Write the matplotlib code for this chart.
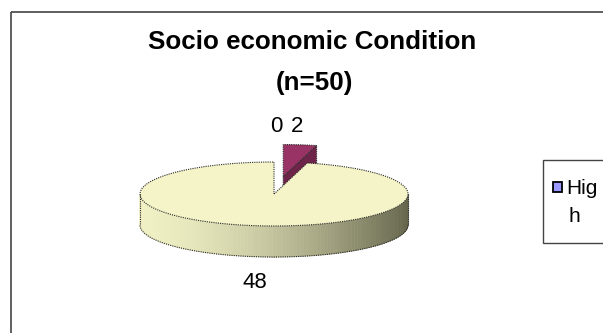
import numpy as np
import matplotlib
matplotlib.use('Agg')
import matplotlib.pyplot as plt
from matplotlib.patches import Polygon, Rectangle

plt.rcParams['font.family'] = ['Liberation Sans', 'DejaVu Sans']

# data
labels = ['High', 'Medium', 'Low']
values = [0, 2, 48]
colors = ['#9999FF', '#993366', '#F4F4C8']
side_colors = ['#7A7ACC', '#6E2449', None]
explode = [0.0, 0.55, 0.0]

# layout of the 3d pie (pixel space, y down)
cx, cy = 274, 194
rx, ry = 134, 32
depth = 31

fig = plt.figure(figsize=(6.03, 3.33), dpi=100)
ax = fig.add_axes([0, 0, 1, 1])
ax.set_xlim(0, 603)
ax.set_ylim(333, 0)
ax.axis('off')

edge = dict(edgecolor='#2a2a2a', linewidth=0.8, linestyle=(0, (1, 1)))


def pt(t, ox=0, oy=0, dz=0):
    r = np.radians(t)
    return cx + ox + rx * np.sin(r), cy + oy - ry * np.cos(r) + dz


total = float(sum(values))
starts = np.concatenate([[0], np.cumsum(values)[:-1]]) / total * 360
ends = np.cumsum(values) / total * 360

# chart area border
ax.add_patch(Rectangle((11, 12), 700, 400, fill=False, edgecolor='#444444', linewidth=1.2, clip_on=False))

for i, (a, b) in enumerate(zip(starts, ends)):
    if b - a <= 0:
        continue
    mid = np.radians((a + b) / 2)
    ox = rx * explode[i] * np.sin(mid)
    oy = -ry * explode[i] * np.cos(mid)
    apex = (cx + ox, cy + oy)
    ts = np.linspace(a, b, max(int(b - a), 2) + 1)
    arc = [pt(t, ox, oy) for t in ts]

    # curved side, front half only
    lo, hi = max(a, 90), min(b, 270)
    if hi > lo:
        ss = np.linspace(lo, hi, 120)
        x_left, x_right = cx - rx, cx + rx
        for t0, t1 in zip(ss[:-1], ss[1:]):
            p0, p1 = pt(t0, ox, oy), pt(t1, ox, oy)
            f = ((p0[0] + p1[0]) / 2 - x_left) / (x_right - x_left)
            f = np.clip(f, 0, 1) ** 1.6
            light = np.array([0.94, 0.94, 0.77])
            dark = np.array([0.40, 0.40, 0.30])
            c = light * (1 - f) + dark * f
            quad = [p0, p1, (p1[0], p1[1] + depth), (p0[0], p0[1] + depth)]
            ax.add_patch(Polygon(quad, closed=True, facecolor=c, edgecolor=c, linewidth=0.5))
        bottom = [pt(t, ox, oy, depth) for t in ss]
        ax.plot([p[0] for p in bottom], [p[1] for p in bottom], color='#2a2a2a', lw=0.8, ls=(0, (1, 1)))
        for t in (lo, hi):
            p = pt(t, ox, oy)
            ax.plot([p[0], p[0]], [p[1], p[1] + depth], color='#2a2a2a', lw=0.8, ls=(0, (1, 1)))

    # radial face at end angle (visible when facing front)
    if np.sin(np.radians(b)) > 0 and side_colors[i]:
        e = pt(b, ox, oy)
        face = [apex, e, (e[0], e[1] + depth), (apex[0], apex[1] + depth)]
        ax.add_patch(Polygon(face, closed=True, facecolor=side_colors[i], **edge))

    # top face
    ax.add_patch(Polygon([apex] + arc, closed=True, facecolor=colors[i], **edge))

# data labels
label_pos = [(276, 126), (297, 126), (255, 283)]
for v, (lx, ly) in zip(values, label_pos):
    ax.text(lx, ly, str(v), fontsize=16, ha='center', va='center', color='black')

# title
ax.text(312, 42, 'Socio economic Condition', fontsize=18.7, fontweight='bold', ha='center', va='center')
ax.text(314, 83, '(n=50)', fontsize=18.7, fontweight='bold', ha='center', va='center')

# legend (cut off at the right edge like the reference)
ax.add_patch(Rectangle((543, 160), 100, 83, fill=False, edgecolor='#444444', linewidth=1.0, clip_on=False))
ax.add_patch(Rectangle((553, 182), 9, 10, facecolor=colors[0], edgecolor='black', linewidth=1.3))
ax.text(566, 188, labels[0][:3], fontsize=15, ha='left', va='center')
ax.text(569, 217, labels[0][3:], fontsize=15, ha='left', va='center')

plt.savefig('out.png', dpi=100)
plt.close()
